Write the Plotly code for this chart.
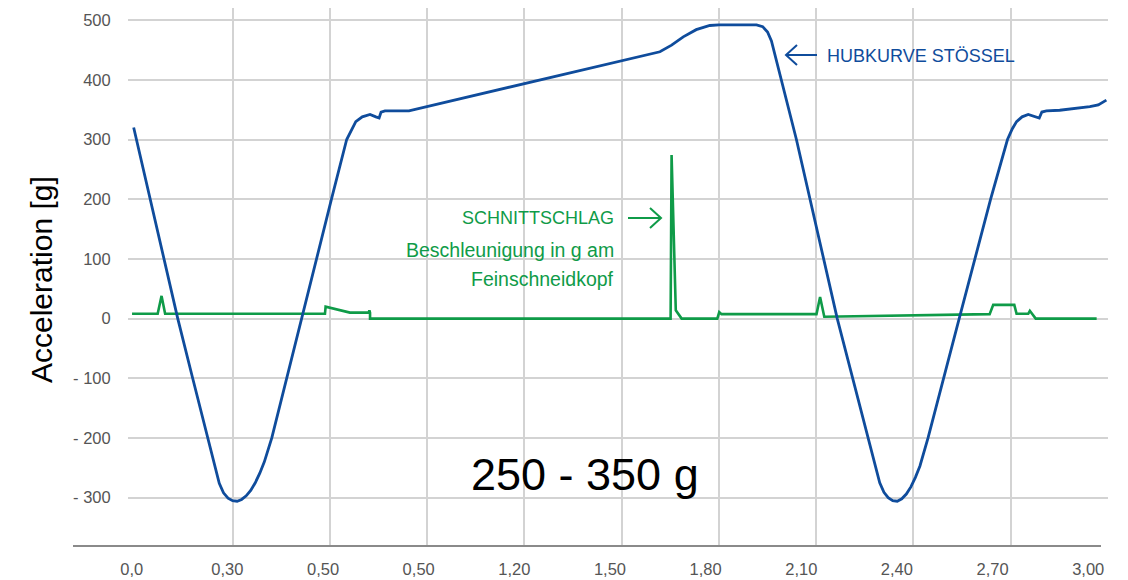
import plotly.graph_objects as go

# ---------------- data ----------------
blue_x = [-0.005, 0.131, 0.177, 0.223, 0.235, 0.247, 0.259, 0.272, 0.286, 0.300, 0.314, 0.328,
          0.342, 0.356, 0.370, 0.384, 0.398, 0.421, 0.467, 0.513, 0.557, 0.605, 0.652, 0.665,
          0.680, 0.700, 0.724, 0.742, 0.752, 0.758, 0.770, 0.844, 1.618, 1.654, 1.690, 1.730,
          1.772, 1.800, 1.916, 1.935, 1.950, 1.962, 1.993, 2.039, 2.165, 2.260, 2.272, 2.284,
          2.296, 2.309, 2.322, 2.336, 2.350, 2.364, 2.378, 2.392, 2.406, 2.420, 2.445, 2.541,
          2.590, 2.638, 2.690, 2.705, 2.718, 2.735, 2.754, 2.775, 2.788, 2.796, 2.810, 2.851,
          2.944, 2.970, 2.995]
blue_y = [320, 0, -100, -200, -228, -254, -276, -292, -301, -305, -306, -303,
          -297, -288, -275, -259, -240, -200, -100, 0, 100, 200, 300, 315,
          330, 338, 342, 338, 336, 346, 348, 348, 447, 458, 472, 484,
          491, 492, 492, 489, 480, 465, 400, 300, 0, -200, -228, -254,
          -275, -291, -300, -305, -306, -302, -294, -282, -266, -247, -200, 0,
          100, 200, 300, 318, 330, 338, 342, 338, 336, 346, 348, 349,
          355, 358, 366]

green_x = [-0.01, 0.069, 0.081, 0.092, 0.585, 0.587, 0.662, 0.720, 0.722, 0.724, 0.724,
           1.651, 1.654, 1.667, 1.685, 1.795, 1.801, 1.808, 2.101, 2.112, 2.125, 2.635,
           2.646, 2.711, 2.718, 2.754, 2.759, 2.777, 2.965]
green_y = [8, 8, 38, 8, 8, 20, 10, 10, 14, 10, 0,
           0, 274, 14, 0, 0, 11, 7.5, 7.5, 36, 3, 7.5,
           23, 23, 8, 8, 13, 0, 0]

y_ticks = [-300, -200, -100, 0, 100, 200, 300, 400, 500]
y_tick_text = ["- 300", "- 200", "- 100", "0", "100", "200", "300", "400", "500"]
x_grid = [0.3, 0.6, 0.9, 1.2, 1.5, 1.8, 2.1, 2.4, 2.7]
x_tick_text = ["0,0", "0,30", "0,50", "0,50", "1,20", "1,50", "1,80", "2,10", "2,40", "2,70", "3,00"]

# ---------------- styling ----------------
BLUE = "#0f4c9c"
GREEN = "#0f9b48"
FONT = "Liberation Sans, Arial, sans-serif"
W, H = 1128, 580
ML, MR, MT, MB = 128, 20, 8, 34
XR = [-0.0225, 3.0]
YR = [-381, 520.3]
PW, PH = W - ML - MR, H - MT - MB


def px(xp):
    return (xp - ML) / PW


def py(yp):
    return (H - MB - yp) / PH


label_step = 0.295
label_pos = [-0.011 + i * label_step for i in range(len(x_tick_text))]

fig = go.Figure()
fig.add_trace(go.Scatter(x=green_x, y=green_y, mode="lines",
                         line=dict(color=GREEN, width=2.6), hoverinfo="skip"))
fig.add_trace(go.Scatter(x=blue_x, y=blue_y, mode="lines",
                         line=dict(color=BLUE, width=2.8), hoverinfo="skip"))

fig.update_layout(
    width=W, height=H,
    margin=dict(l=ML, r=MR, t=MT, b=MB, autoexpand=False),
    paper_bgcolor="white", plot_bgcolor="white",
    showlegend=False,
    font=dict(family=FONT, color="#555555", size=16),
    xaxis=dict(range=XR, tickvals=x_grid, showticklabels=False, ticks="",
               showgrid=True, gridcolor="#d3d3d3", gridwidth=2, zeroline=False,
               showline=False, fixedrange=True, automargin=False),
    xaxis2=dict(range=XR, overlaying="x", anchor="free", position=0, side="bottom",
                tickvals=label_pos, ticktext=x_tick_text, showgrid=False, zeroline=False,
                showline=False, ticks="outside", ticklen=8, tickcolor="rgba(0,0,0,0)",
                automargin=False,
                tickfont=dict(family=FONT, size=16.5, color="#555555")),
    yaxis=dict(range=YR, tickvals=y_ticks, ticktext=y_tick_text, showgrid=True,
               gridcolor="#d3d3d3", gridwidth=2, zeroline=False, showline=False,
               ticks="outside", ticklen=13, tickcolor="rgba(0,0,0,0)", automargin=False,
               tickfont=dict(family=FONT, size=16.5, color="#555555")),
)
# dummy trace to activate xaxis2
fig.add_trace(go.Scatter(x=[None], y=[None], xaxis="x2", yaxis="y", showlegend=False))

shapes = [
    # bottom axis line
    dict(type="line", xref="paper", yref="paper", x0=px(73), x1=px(1101), y0=0, y1=0,
         line=dict(color="#8a8a8a", width=2)),
    # blue arrow
    dict(type="line", xref="paper", yref="paper", x0=px(787), x1=px(817), y0=py(55), y1=py(55),
         line=dict(color=BLUE, width=2)),
    dict(type="path", xref="paper", yref="paper",
         path=f"M {px(797)},{py(45)} L {px(786)},{py(55)} L {px(797)},{py(65)}",
         line=dict(color=BLUE, width=2)),
    # green arrow
    dict(type="line", xref="paper", yref="paper", x0=px(628), x1=px(660), y0=py(218), y1=py(218),
         line=dict(color=GREEN, width=2)),
    dict(type="path", xref="paper", yref="paper",
         path=f"M {px(650)},{py(208)} L {px(661)},{py(218)} L {px(650)},{py(228)}",
         line=dict(color=GREEN, width=2)),
]
fig.update_layout(shapes=shapes)

ann = [
    dict(text="HUBKURVE STÖSSEL", x=px(825), y=py(56), xanchor="left", yanchor="middle",
         font=dict(family=FONT, size=18, color=BLUE)),
    dict(text="SCHNITTSCHLAG", x=px(616), y=py(218), xanchor="right", yanchor="middle",
         font=dict(family=FONT, size=18, color=GREEN)),
    dict(text="Beschleunigung in g am", x=px(616), y=py(250), xanchor="right", yanchor="middle",
         font=dict(family=FONT, size=19.5, color=GREEN)),
    dict(text="Feinschneidkopf", x=px(616), y=py(279), xanchor="right", yanchor="middle",
         font=dict(family=FONT, size=19.5, color=GREEN)),
    dict(text="250 - 350 g", x=px(585), y=py(474), xanchor="center", yanchor="middle",
         font=dict(family=FONT, size=45, color="#000000")),
    dict(text="Acceleration [g]", x=px(41), y=py(280), xanchor="center", yanchor="middle",
         textangle=-90, font=dict(family=FONT, size=30, color="#000000")),
]
for a in ann:
    a.update(xref="paper", yref="paper", showarrow=False)
fig.update_layout(annotations=ann)

fig.write_html("out.html", config={"displayModeBar": False},
               post_script="document.body.style.margin='0';document.body.style.padding='0';")
